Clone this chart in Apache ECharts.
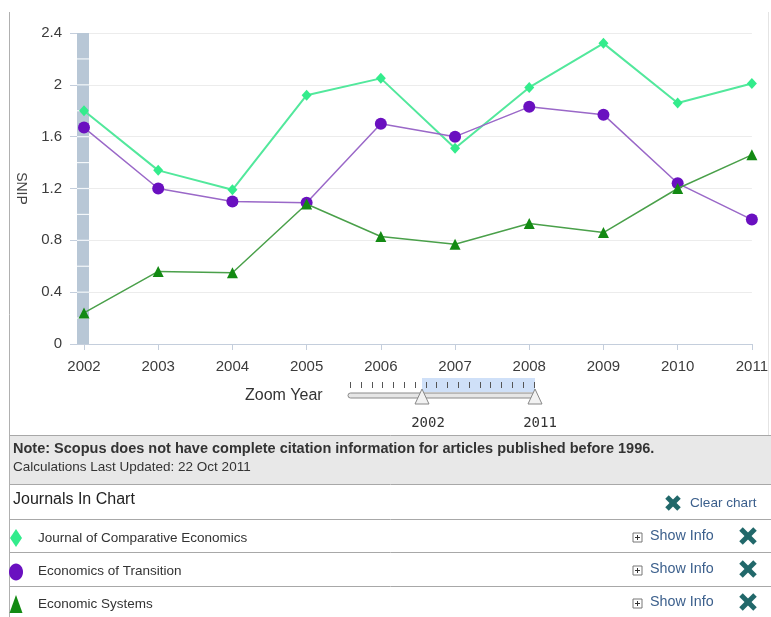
<!DOCTYPE html>
<html>
<head>
<meta charset="utf-8">
<script src="https://cdn.jsdelivr.net/npm/echarts@6/dist/echarts.min.js"></script>
<style>
html,body{margin:0;padding:0;background:#fff;}
#main{width:771px;height:617px;}
</style>
</head>
<body>
<div id="main"></div>
<script>
const years = ['2002','2003','2004','2005','2006','2007','2008','2009','2010','2011'];
const jceValues = [1.80,1.34,1.19,1.92,2.05,1.51,1.98,2.32,1.86,2.01];
const eotValues = [1.67,1.20,1.10,1.09,1.70,1.60,1.83,1.77,1.24,0.96];
const esValues  = [0.24,0.56,0.55,1.08,0.83,0.77,0.93,0.86,1.20,1.46];
const seriesNames = ['Journal of Comparative Economics','Economics of Transition','Economic Systems'];
const yMin = 0, yMax = 2.4, yInterval = 0.4;
const sliderLabels = ['2002','2011'];
const noteText = 'Note: Scopus does not have complete citation information for articles published before 1996.';
const updatedText = 'Calculations Last Updated: 22 Oct 2011';

const FONT = '"Liberation Sans", Arial, sans-serif';
const chart = echarts.init(document.getElementById('main'), null, {renderer:'canvas'});

function xIcon(cx, cy, s){
  return [
    {type:'line', z:10, shape:{x1:cx-s,y1:cy-s,x2:cx+s,y2:cy+s}, style:{stroke:'#21686a',lineWidth:5,lineCap:'butt'}},
    {type:'line', z:10, shape:{x1:cx+s,y1:cy-s,x2:cx-s,y2:cy+s}, style:{stroke:'#21686a',lineWidth:5,lineCap:'butt'}}
  ];
}
function plusBox(x, y){
  return [
    {type:'rect', z:10, shape:{x:x,y:y,width:9,height:9}, style:{fill:'#fff',stroke:'#777',lineWidth:1}},
    {type:'line', z:11, shape:{x1:x+2,y1:y+4.5,x2:x+7,y2:y+4.5}, style:{stroke:'#333',lineWidth:1}},
    {type:'line', z:11, shape:{x1:x+4.5,y1:y+2,x2:x+4.5,y2:y+7}, style:{stroke:'#333',lineWidth:1}}
  ];
}

const option = {
  animation:false,
  backgroundColor:'#fff',
  grid:{left:84, right:17, top:33, bottom:273, containLabel:false},
  xAxis:{
    type:'category', data:years, boundaryGap:false,
    axisLine:{lineStyle:{color:'#c4cedc',width:1}},
    axisTick:{show:true, length:6, lineStyle:{color:'#c4cedc'}},
    axisLabel:{color:'#3c3c3c', fontFamily:FONT, fontSize:15, margin:15},
    splitLine:{show:false}
  },
  yAxis:{
    type:'value', min:yMin, max:yMax, interval:yInterval,
    name:'SNIP', nameLocation:'middle', nameRotate:-90, nameGap:56,
    nameTextStyle:{color:'#444', fontFamily:FONT, fontSize:14},
    axisLine:{show:false},
    axisTick:{show:true, length:14, lineStyle:{color:'#c4cedc'}},
    axisLabel:{color:'#3c3c3c', fontFamily:FONT, fontSize:15, margin:22},
    splitLine:{lineStyle:{color:'#ececec'}}
  },
  series:[
    {name:seriesNames[0], type:'line', data:jceValues, symbol:'diamond', symbolSize:[10,11],
     itemStyle:{color:'#33ec8c'}, lineStyle:{color:'#52e89c', width:2}, z:3},
    {name:seriesNames[1], type:'line', data:eotValues, symbol:'circle', symbolSize:12,
     itemStyle:{color:'#6a10c0'}, lineStyle:{color:'#9a68c8', width:1.5}, z:4},
    {name:seriesNames[2], type:'line', data:esValues, symbol:'triangle', symbolSize:11,
     itemStyle:{color:'#138a13'}, lineStyle:{color:'#4aa04a', width:1.5}, z:5}
  ]
};
chart.setOption(option);

const p0 = chart.convertToPixel({xAxisIndex:0, yAxisIndex:0}, [0, yMax]);
const p1 = chart.convertToPixel({xAxisIndex:0, yAxisIndex:0}, [0, yMin]);
const g = [];
g.push({type:'rect', z:1, shape:{x:p0[0]-7,y:p0[1],width:12,height:p1[1]-p0[1]}, style:{fill:'#b8c7d6'}});
for(let v=0.2; v<yMax-0.01; v+=0.2){
  const py = chart.convertToPixel({yAxisIndex:0}, v);
  g.push({type:'line', z:1, shape:{x1:p0[0]-7,y1:py,x2:p0[0]+5,y2:py}, style:{stroke:'#f4f7fa',lineWidth:1.2}});
}
g.push({type:'line', z:0, shape:{x1:9.5,y1:12,x2:9.5,y2:617}, style:{stroke:'#b0b0b0',lineWidth:1}});
g.push({type:'line', z:0, shape:{x1:768.5,y1:12,x2:768.5,y2:435}, style:{stroke:'#e4e4e4',lineWidth:1}});

// zoom slider
g.push({type:'text', z:10, style:{x:245, y:396, text:'Zoom Year', font:'16px '+FONT, fill:'#333', textVerticalAlign:'middle'}});
g.push({type:'rect', z:10, shape:{x:422,y:378,width:113,height:14}, style:{fill:'#cfe0f8'}});
for(let i=0;i<18;i++){
  const tx = 350 + i*10.8;
  g.push({type:'line', z:11, shape:{x1:Math.round(tx)+0.5,y1:382,x2:Math.round(tx)+0.5,y2:388}, style:{stroke:'#555',lineWidth:1}});
}
g.push({type:'rect', z:12, shape:{x:348,y:393,width:188,height:5,r:2.5}, style:{fill:'#e6e6e6',stroke:'#8a8a8a',lineWidth:1}});
[422,535].forEach(function(hx){
  g.push({type:'polygon', z:13, shape:{points:[[hx,389],[hx-7,404],[hx+7,404]]}, style:{fill:'#f2f2f2',stroke:'#888',lineWidth:1}});
});
g.push({type:'text', z:10, style:{x:428, y:423, text:sliderLabels[0], font:'14px "DejaVu Sans Mono", monospace', fill:'#333', textAlign:'center', textVerticalAlign:'middle'}});
g.push({type:'text', z:10, style:{x:540, y:423, text:sliderLabels[1], font:'14px "DejaVu Sans Mono", monospace', fill:'#333', textAlign:'center', textVerticalAlign:'middle'}});

// note band
g.push({type:'rect', z:5, shape:{x:10,y:435,width:761,height:49}, style:{fill:'#e8e8e8'}});
g.push({type:'line', z:6, shape:{x1:10,y1:435.5,x2:771,y2:435.5}, style:{stroke:'#a8a8a8',lineWidth:1}});
g.push({type:'line', z:6, shape:{x1:10,y1:484.5,x2:771,y2:484.5}, style:{stroke:'#a8a8a8',lineWidth:1}});
g.push({type:'text', z:7, style:{x:13, y:449, text:noteText, font:'bold 14.5px '+FONT, fill:'#333', textVerticalAlign:'middle'}});
g.push({type:'text', z:7, style:{x:13, y:467, text:updatedText, font:'13.5px '+FONT, fill:'#333', textVerticalAlign:'middle'}});

// journals list
g.push({type:'text', z:7, style:{x:13, y:500, text:'Journals In Chart', font:'16px '+FONT, fill:'#222', textVerticalAlign:'middle'}});
xIcon(673, 503, 6).forEach(function(e){g.push(e);});
g.push({type:'text', z:7, style:{x:690, y:503, text:'Clear chart', font:'13.6px '+FONT, fill:'#3b5f8c', textVerticalAlign:'middle'}});
[519.5, 552.5, 586.5].forEach(function(ly){
  g.push({type:'line', z:6, shape:{x1:10,y1:ly,x2:771,y2:ly}, style:{stroke:'#a8a8a8',lineWidth:1}});
});
const rowY = [538, 571, 604];
g.push({type:'polygon', z:7, shape:{points:[[16,529],[22,538],[16,547],[10,538]]}, style:{fill:'#33ec8c'}});
g.push({type:'ellipse', z:7, shape:{cx:16,cy:572,rx:7,ry:8.5}, style:{fill:'#6a10c0'}});
g.push({type:'polygon', z:7, shape:{points:[[16,595],[22.5,613],[9.5,613]]}, style:{fill:'#138a13'}});
for(let i=0;i<3;i++){
  g.push({type:'text', z:7, style:{x:38, y:rowY[i], text:seriesNames[i], font:'13.5px '+FONT, fill:'#333', textVerticalAlign:'middle'}});
  plusBox(633, rowY[i]-5).forEach(function(e){g.push(e);});
  g.push({type:'text', z:7, style:{x:650, y:rowY[i]-2, text:'Show Info', font:'14.3px '+FONT, fill:'#3b5f8c', textVerticalAlign:'middle'}});
  xIcon(748, rowY[i]-2, 7).forEach(function(e){g.push(e);});
}
chart.setOption({graphic:g});
</script>
</body>
</html>
